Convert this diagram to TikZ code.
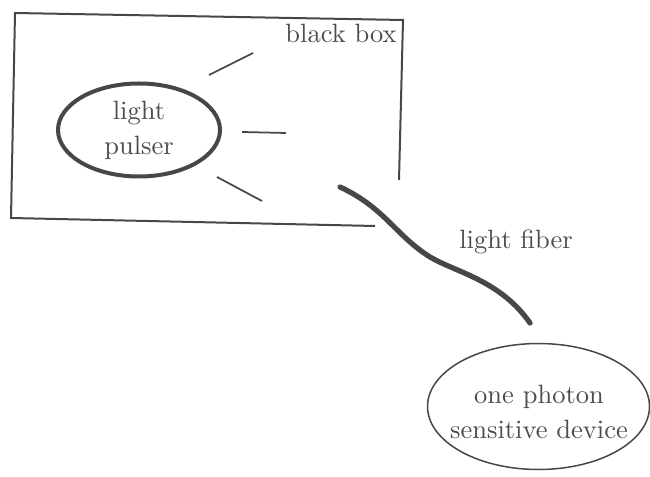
\documentclass[tikz,border=0pt]{standalone}
\usetikzlibrary{shapes.geometric}
\definecolor{ink}{gray}{0.28}
\definecolor{txt}{gray}{0.3}
\tikzset{
  boxline/.style={draw=ink, line width=0.8pt},
  ray/.style={draw=ink, line width=0.7pt},
  fiber/.style={draw=ink, line width=2.1pt, line cap=round},
  lbl/.style={text=txt, font=\fontsize{10.6}{14}\selectfont, align=center, inner sep=0pt},
  pulser/.style={ellipse, draw=ink, line width=1.6pt, minimum width=64.8pt, minimum height=37.2pt, inner sep=0pt},
  deviceline/.style={draw=ink, line width=0.6pt}
}
\begin{document}
\begin{tikzpicture}[x=0.4pt, y=-0.4pt]
\useasboundingbox (0,0) rectangle (650,477);
% black box outline
\coordinate (tl) at (15,13);
\coordinate (tr) at (403,20);
\coordinate (rb) at (399,180);
\coordinate (bl) at (11,218);
\coordinate (br) at (375,226);
\draw[boxline] (rb) -- (tr) -- (tl) -- (bl) -- (br);
\node[lbl] (bb) at (341,33) {black box};
% light pulser
\node[pulser, lbl, text=txt] (lp) at (139,130) {light\\pulser};
% rays
\coordinate (r1a) at (209,75);  \coordinate (r1b) at (253,53);
\coordinate (r2a) at (242,132); \coordinate (r2b) at (286,133);
\coordinate (r3a) at (217,177); \coordinate (r3b) at (262,201);
\draw[ray] (r1a) -- (r1b);
\draw[ray] (r2a) -- (r2b);
\draw[ray] (r3a) -- (r3b);
% fiber
\coordinate (f1) at (340,187);
\coordinate (fm) at (430,257);
\coordinate (f2) at (530,323);
\draw[fiber] (f1) .. controls (385,208) and (395,235) .. (fm)
             .. controls (455,272) and (500,280) .. (f2);
\node[lbl] (lf) at (516,242) {light fiber};
% device
\node[lbl] (dev) at (539,412) {one photon\\sensitive device};
\draw[deviceline] (538.5,406.5) ellipse [x radius=111, y radius=63];
\end{tikzpicture}
\end{document}
